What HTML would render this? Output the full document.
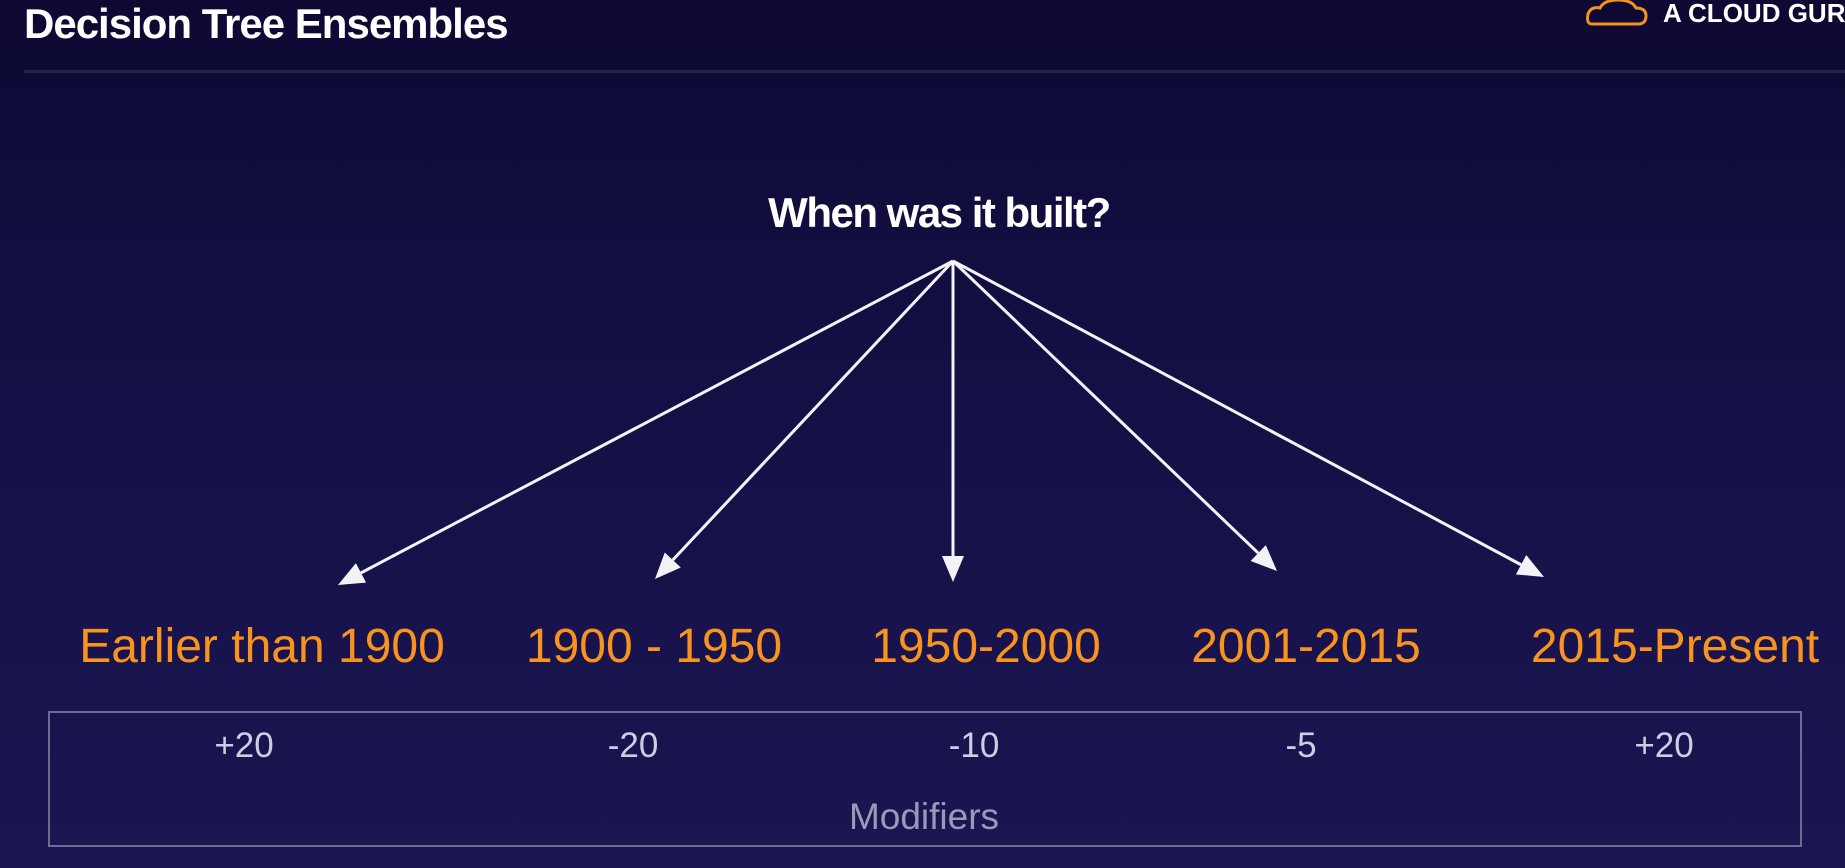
<!DOCTYPE html>
<html><head><meta charset="utf-8">
<style>
html,body{margin:0;padding:0;}
body{width:1845px;height:868px;overflow:hidden;background:linear-gradient(180deg,#0d0933 0%,#141045 45%,#1b1652 100%);font-family:"Liberation Sans",sans-serif;position:relative;}
.abs{position:absolute;white-space:nowrap;}
</style></head><body>
<div class="abs" style="left:24px;top:0px;font-size:42px;font-weight:bold;color:#fff;letter-spacing:-1px;">Decision Tree Ensembles</div>
<div class="abs" style="left:24px;top:70px;width:1821px;height:3px;background:#252050;"></div>
<svg class="abs" style="left:1586px;top:0;" width="64" height="28"><path d="M6 24 Q0 24 2 14 Q5 6 14 8 Q18 0 32 0 Q46 0 50 8 Q60 8 60 16 Q60 24 52 24 Z" fill="none" stroke="#f4921f" stroke-width="3"/></svg>
<div class="abs" style="left:1663px;top:-2px;font-size:26px;font-weight:bold;color:#fff;">A CLOUD GURU</div>
<div class="abs" style="left:939px;top:189px;transform:translateX(-50%);font-size:42px;font-weight:bold;color:#fff;letter-spacing:-1.5px;">When was it built?</div>
<svg class="abs" id="tree" style="left:0;top:0;" width="1845" height="868"></svg>
<div id="labels"></div>
<div class="abs" style="left:48px;top:711px;width:1750px;height:132px;border:2px solid #6e6a92;"></div>
<div id="mods"></div>
<div class="abs" style="left:924px;top:796px;transform:translateX(-50%);font-size:37px;color:#9c99b8;">Modifiers</div>
<script>
const categories=["Earlier than 1900","1900 - 1950","1950-2000","2001-2015","2015-Present"];
const modifiers=["+20","-20","-10","-5","+20"];
const labelX=[262,654,986,1306,1675];
const tipX=[338,655,953,1277,1544];
const tipY=[585,579,582,571,577];
const modX=[244,633,974,1301,1664];
const ox=953,oy=261;
const svg=document.getElementById('tree');
const NS="http://www.w3.org/2000/svg";
for(let i=0;i<categories.length;i++){
  const tx=tipX[i],ty=tipY[i];
  const dx=tx-ox,dy=ty-oy,len=Math.hypot(dx,dy),ux=dx/len,uy=dy/len;
  const bx=tx-ux*26,by=ty-uy*26;
  const ln=document.createElementNS(NS,'line');
  ln.setAttribute('x1',ox);ln.setAttribute('y1',oy);ln.setAttribute('x2',bx);ln.setAttribute('y2',by);
  ln.setAttribute('stroke','#f2f2f7');ln.setAttribute('stroke-width','3');
  
  
  svg.appendChild(ln);
  const px=-uy,py=ux;
  const p=document.createElementNS(NS,'polygon');
  p.setAttribute('points',`${tx},${ty} ${bx+px*11},${by+py*11} ${bx-px*11},${by-py*11}`);
  p.setAttribute('fill','#f2f2f7');
  
  
  svg.appendChild(p);
  const d=document.createElement('div');
  d.className='abs';
  d.textContent=categories[i];
  d.style.cssText=`left:${labelX[i]}px;top:619px;transform:translateX(-50%);font-size:48px;color:#f7931e;`;
  
  
  document.getElementById('labels').appendChild(d);
  const m=document.createElement('div');
  m.className='abs';
  m.textContent=modifiers[i];
  m.style.cssText=`left:${modX[i]}px;top:726px;transform:translateX(-50%);font-size:35px;color:#cfcde0;`;
  
  
  document.getElementById('mods').appendChild(m);
}
</script>
</body></html>
